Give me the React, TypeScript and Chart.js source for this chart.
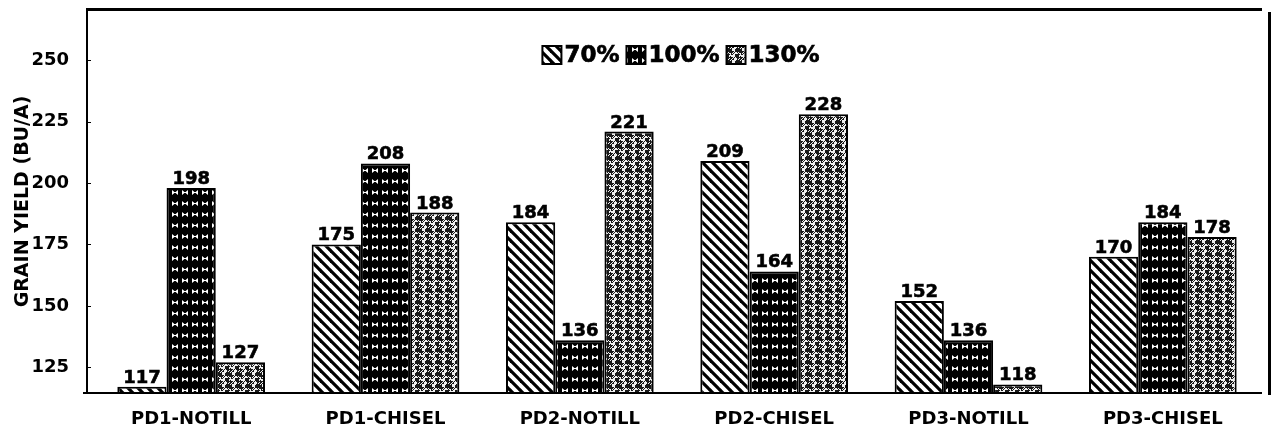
import React, { useEffect, useRef } from "react";
import { Chart, registerables } from "chart.js";

Chart.register(...registerables);

const categories = ["PD1-NOTILL", "PD1-CHISEL", "PD2-NOTILL", "PD2-CHISEL", "PD3-NOTILL", "PD3-CHISEL"];
const series70 = [117, 175, 184, 209, 152, 170];
const series100 = [198, 208, 136, 164, 136, 184];
const series130 = [127, 188, 221, 228, 118, 178];
const seriesLabels = ["70%", "100%", "130%"];
const yTickValues = [125, 150, 175, 200, 225, 250];
const yMin = 114.5;
const yMax = 270.5;

const FONT = "'DejaVu Sans', 'Liberation Sans', Arial, sans-serif";

function makeHatch(): CanvasPattern {
  const c = document.createElement("canvas");
  c.width = 10;
  c.height = 10;
  const g = c.getContext("2d")!;
  g.fillStyle = "#fff";
  g.fillRect(0, 0, 10, 10);
  g.strokeStyle = "#000";
  g.lineWidth = 3.2;
  for (const k of [-10, 0, 10]) {
    g.beginPath();
    g.moveTo(k - 1, -1);
    g.lineTo(k + 11, 11);
    g.stroke();
  }
  return g.createPattern(c, "repeat")!;
}

function makeBowtie(): CanvasPattern {
  const c = document.createElement("canvas");
  c.width = 10;
  c.height = 11;
  const g = c.getContext("2d")!;
  g.fillStyle = "#000";
  g.fillRect(0, 0, 10, 11);
  g.fillStyle = "#fff";
  g.beginPath();
  g.moveTo(2, 3);
  g.lineTo(5, 5.5);
  g.lineTo(8, 3);
  g.lineTo(8, 8);
  g.lineTo(5, 5.5);
  g.lineTo(2, 8);
  g.closePath();
  g.fill();
  g.fillRect(2, 5, 6, 1);
  return g.createPattern(c, "repeat")!;
}

function makeStipple(): CanvasPattern {
  const W = 10;
  const H = 12;
  const c = document.createElement("canvas");
  c.width = W;
  c.height = H;
  const g = c.getContext("2d")!;
  const img = g.createImageData(W, H);
  for (let y = 0; y < H; y++) {
    for (let x = 0; x < W; x++) {
      const shift = Math.round(1.5 * Math.sin((y * Math.PI * 2) / 6));
      const w = (((x + shift) % W) + W) % W;
      const h = Math.abs(Math.sin(x * 12.9898 + y * 78.233) * 43758.5453) % 1;
      let light = w >= 3 && w < 6;
      if (h < 0.14) light = !light;
      const v = light ? 240 : 25;
      const i = (y * W + x) * 4;
      img.data[i] = v;
      img.data[i + 1] = v;
      img.data[i + 2] = v;
      img.data[i + 3] = 255;
    }
  }
  g.putImageData(img, 0, 0);
  return g.createPattern(c, "repeat")!;
}

const valueLabelPlugin = {
  id: "valueLabels",
  afterDatasetsDraw(chart: any) {
    const ctx = chart.ctx;
    ctx.save();
    ctx.font = `bold 18px ${FONT}`;
    ctx.fillStyle = "#000";
    ctx.strokeStyle = "#000";
    ctx.lineWidth = 0.6;
    ctx.textAlign = "center";
    ctx.textBaseline = "alphabetic";
    chart.data.datasets.forEach((ds: any, di: number) => {
      const meta = chart.getDatasetMeta(di);
      meta.data.forEach((el: any, i: number) => {
        ctx.fillText(String(ds.data[i]), el.x, el.y - 4);
        ctx.strokeText(String(ds.data[i]), el.x, el.y - 4);
      });
    });
    ctx.restore();
  },
};

const framePlugin = {
  id: "frame",
  afterDraw(chart: any) {
    const { ctx, chartArea: ca } = chart;
    const yScale = chart.scales.y;
    const axisX = ca.left - 7;
    ctx.save();
    ctx.strokeStyle = "#000";
    ctx.lineCap = "butt";
    ctx.lineWidth = 2;
    ctx.beginPath();
    ctx.moveTo(axisX, ca.top - 2);
    ctx.lineTo(axisX, ca.bottom);
    ctx.stroke();
    ctx.beginPath();
    ctx.moveTo(axisX - 4, ca.bottom);
    ctx.lineTo(ca.right + 2, ca.bottom);
    ctx.stroke();
    ctx.lineWidth = 3;
    ctx.beginPath();
    ctx.moveTo(axisX - 1, ca.top - 0.5);
    ctx.lineTo(ca.right + 2, ca.top - 0.5);
    ctx.stroke();
    ctx.beginPath();
    ctx.moveTo(ca.right + 9.5, ca.top + 2);
    ctx.lineTo(ca.right + 9.5, ca.bottom + 2);
    ctx.stroke();
    ctx.lineWidth = 1;
    yScale.ticks.forEach((t: any) => {
      const py = Math.round(yScale.getPixelForValue(t.value)) + 0.5;
      ctx.beginPath();
      ctx.moveTo(axisX, py);
      ctx.lineTo(axisX + 4, py);
      ctx.stroke();
    });
    ctx.restore();
  },
};

const legendPlugin = {
  id: "patternLegend",
  afterDraw(chart: any) {
    const { ctx, chartArea: ca } = chart;
    ctx.save();
    ctx.font = `bold 23px ${FONT}`;
    ctx.textBaseline = "middle";
    ctx.textAlign = "left";
    const boxW = 19;
    const boxH = 18;
    const gapBoxText = 3;
    const gapItems = 7;
    const items = chart.data.datasets.map((ds: any) => ({
      label: ds.label,
      fill: ds.backgroundColor,
      w: boxW + gapBoxText + ctx.measureText(ds.label).width,
    }));
    const total = items.reduce((s: number, it: any) => s + it.w, 0) + gapItems * (items.length - 1);
    let x = (ca.left + ca.right) / 2 - total / 2 + 4;
    const cy = 55;
    items.forEach((it: any) => {
      ctx.fillStyle = it.fill;
      ctx.fillRect(x, cy - boxH / 2, boxW, boxH);
      ctx.lineWidth = 2;
      ctx.strokeStyle = "#000";
      ctx.strokeRect(x, cy - boxH / 2, boxW, boxH);
      ctx.fillStyle = "#000";
      ctx.fillText(it.label, x + boxW + gapBoxText, cy + 1);
      ctx.lineWidth = 0.7;
      ctx.strokeText(it.label, x + boxW + gapBoxText, cy + 1);
      x += it.w + gapItems;
    });
    ctx.restore();
  },
};

export default function App() {
  const canvasRef = useRef<HTMLCanvasElement | null>(null);

  useEffect(() => {
    if (!canvasRef.current) return;
    const fills = [makeHatch(), makeBowtie(), makeStipple()];
    const values = [series70, series100, series130];

    const chart = new Chart(canvasRef.current, {
      type: "bar",
      data: {
        labels: categories,
        datasets: values.map((d, i) => ({
          label: seriesLabels[i],
          data: d,
          backgroundColor: fills[i] as any,
          borderColor: "#000",
          borderWidth: 2,
          borderSkipped: "start",
          categoryPercentage: 0.76,
          barPercentage: 1.0,
        })),
      },
      options: {
        animation: false,
        responsive: true,
        maintainAspectRatio: false,
        layout: { padding: { left: 0, right: 12, top: 10, bottom: 0 } },
        plugins: {
          legend: { display: false },
          tooltip: { enabled: false },
        },
        scales: {
          x: {
            grid: { display: false },
            border: { display: false },
            ticks: {
              color: "#000",
              font: { family: FONT, size: 18, weight: "bold" },
              padding: 8,
              maxRotation: 0,
              autoSkip: false,
            },
            afterFit(scale: any) {
              scale.height = 35;
              scale.paddingLeft = 0;
              scale.paddingRight = 0;
            },
          },
          y: {
            min: yMin,
            max: yMax,
            grid: { display: false },
            border: { display: false },
            afterBuildTicks(scale: any) {
              scale.ticks = yTickValues.map((v) => ({ value: v }));
            },
            ticks: {
              color: "#000",
              font: { family: FONT, size: 18, weight: "bold" },
              padding: 17,
            },
            title: {
              display: true,
              text: "GRAIN YIELD (BU/A)",
              color: "#000",
              font: { family: FONT, size: 19, weight: "bold" },
              padding: { top: 12, bottom: 0 },
            },
            afterFit(scale: any) {
              scale.width = 94;
              scale.paddingTop = 0;
              scale.paddingBottom = 0;
            },
          },
        },
      },
      plugins: [valueLabelPlugin, framePlugin, legendPlugin],
    });
    return () => chart.destroy();
  }, []);

  return (
    <div style={{ position: "fixed", left: 0, top: 0, width: 1272, height: 428, background: "#fff" }}>
      <canvas ref={canvasRef} />
    </div>
  );
}
